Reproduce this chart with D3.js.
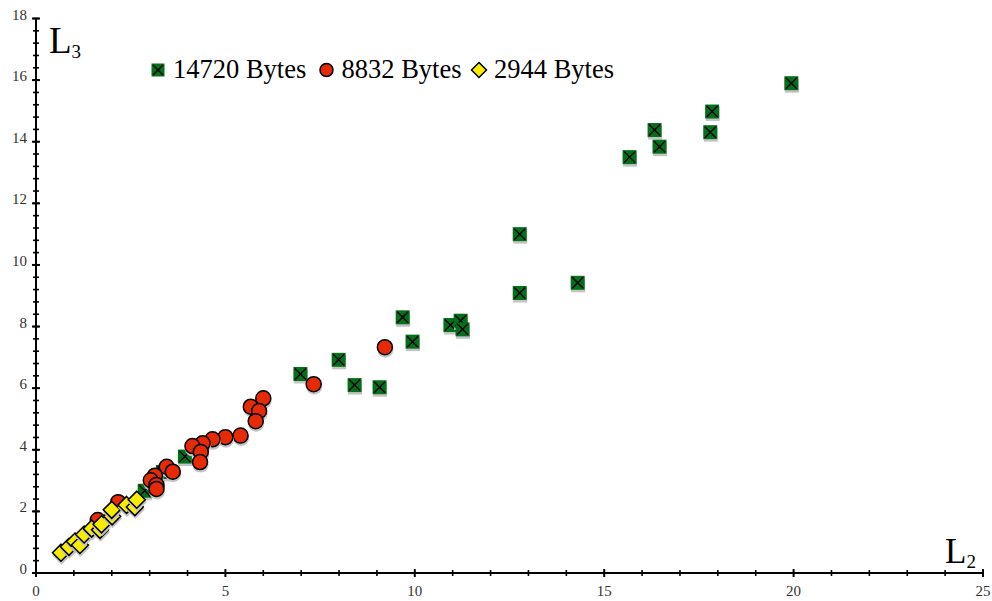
<!DOCTYPE html>
<html>
<head>
<meta charset="utf-8">
<script src="https://d3js.org/d3.v7.min.js"></script>
<style>
  body { margin: 0; background: #fff; }
  text { font-family: "Liberation Serif", "Times New Roman", serif; }
</style>
</head>
<body>
<div id="chart"></div>
<script>
// Data
//-------------------------------------------------------
var seriesNames = ["14720 Bytes", "8832 Bytes", "2944 Bytes"];

var bigX = [19.94, 17.85, 17.80, 16.33, 16.46, 15.67, 12.77, 14.30, 12.77, 9.68, 10.94, 11.21, 11.26,
            9.94, 7.99, 6.98, 8.41, 9.07, 3.93, 2.87, 3.35];
var bigY = [15.90, 14.98, 14.31, 14.38, 13.84, 13.50, 11.00, 9.42, 9.09, 8.30, 8.05, 8.19, 7.91,
            7.51, 6.92, 6.46, 6.10, 6.03, 3.78, 2.67, 3.28];

var midX = [9.21, 7.33, 6.00, 5.67, 5.89, 5.80, 5.40, 5.00, 4.66, 4.40, 4.13, 4.35, 4.33,
            3.45, 3.61, 3.14, 3.03, 3.18, 3.18, 2.17, 1.63];
var midY = [7.33, 6.13, 5.67, 5.40, 5.26, 4.93, 4.46, 4.41, 4.34, 4.21, 4.12, 3.93, 3.60,
            3.45, 3.29, 3.16, 3.01, 2.86, 2.73, 2.30, 1.72];

var smallX = [0.66, 0.87, 1.03, 1.16, 1.27, 1.47, 1.69, 1.73, 2.01, 2.00, 2.39, 2.61, 2.66];
var smallY = [0.66, 0.85, 1.02, 0.91, 1.25, 1.44, 1.40, 1.58, 1.84, 2.05, 2.21, 2.14, 2.38];

var xTicks = [0, 5, 10, 15, 20, 25];
var yTicks = [0, 2, 4, 6, 8, 10, 12, 14, 16, 18];

// Set up SVG
//-------------------------------------------------------
var svgWidth = 992;
var svgHeight = 601;

var margin = { top: 18.5, right: 9, bottom: 28, left: 36 };

var svg = d3.select("#chart")
    .append("svg")
    .attr("width", svgWidth)
    .attr("height", svgHeight);

var xScale = d3.scaleLinear().domain([0, 25]).range([margin.left, svgWidth - margin.right]);
var yScale = d3.scaleLinear().domain([0, 18]).range([svgHeight - margin.bottom, margin.top]);

// Axes
//-------------------------------------------------------
var x0 = xScale(0), y0 = yScale(0);

var axes = svg.append("g");

// minor ticks (cross the axis line)
axes.selectAll(".xminor").data(d3.range(0, 26, 1))
    .enter().append("line")
    .attr("x1", d => xScale(d)).attr("x2", d => xScale(d))
    .attr("y1", d => y0 - (d % 5 === 0 ? 4 : 3)).attr("y2", d => y0 + (d % 5 === 0 ? 4 : 3))
    .attr("stroke", "#000").attr("stroke-width", d => d % 5 === 0 ? 2 : 1.6);

axes.selectAll(".yminor").data(d3.range(0, 18.01, 0.4))
    .enter().append("line")
    .attr("y1", d => yScale(d)).attr("y2", d => yScale(d))
    .attr("x1", x0 - 3).attr("x2", x0 + 3)
    .attr("stroke", "#000").attr("stroke-width", 1.6);

axes.selectAll(".ymajor").data(yTicks)
    .enter().append("line")
    .attr("y1", d => yScale(d)).attr("y2", d => yScale(d))
    .attr("x1", x0 - 4).attr("x2", x0 + 4)
    .attr("stroke", "#000").attr("stroke-width", 2);

axes.append("line")
    .attr("x1", x0).attr("x2", xScale(25))
    .attr("y1", y0).attr("y2", y0)
    .attr("stroke", "#000").attr("stroke-width", 2);

axes.append("line")
    .attr("x1", x0).attr("x2", x0)
    .attr("y1", y0).attr("y2", yScale(18))
    .attr("stroke", "#000").attr("stroke-width", 2);

// tick labels
axes.selectAll(".xlab").data(xTicks)
    .enter().append("text")
    .attr("x", d => xScale(d)).attr("y", y0 + 23)
    .attr("text-anchor", "middle")
    .attr("font-size", 15).attr("fill", "#333")
    .text(d => d);

axes.selectAll(".ylab").data(yTicks)
    .enter().append("text")
    .attr("x", x0 - 9).attr("y", d => yScale(d) + 1)
    .attr("text-anchor", "end")
    .attr("font-size", 15).attr("fill", "#333")
    .text(d => d);

// axis names
var l3 = svg.append("text").attr("x", 49).attr("y", 53).attr("font-size", 37);
l3.append("tspan").text("L");
l3.append("tspan").attr("font-size", 19).attr("dy", 5).text("3");

var l2 = svg.append("text").attr("x", 945).attr("y", 563).attr("font-size", 35);
l2.append("tspan").text("L");
l2.append("tspan").attr("font-size", 19).attr("dy", 5).text("2");

// Markers
//-------------------------------------------------------
var colors = ["#05701c", "#e62a06", "#f8ec00"];

function drawSquare(g, s, fill) {
    g.append("rect").attr("x", -s / 2).attr("y", -s / 2).attr("width", s).attr("height", s)
        .attr("fill", fill);
    g.append("path")
        .attr("d", `M${-s / 2 + 1.5},${-s / 2 + 1.5}L${s / 2 - 1.5},${s / 2 - 1.5}M${s / 2 - 1.5},${-s / 2 + 1.5}L${-s / 2 + 1.5},${s / 2 - 1.5}`)
        .attr("stroke", "#000").attr("stroke-width", 1.4);
}

function drawCircle(g, r, fill) {
    g.append("circle").attr("r", r).attr("fill", fill)
        .attr("stroke", "#000").attr("stroke-width", 1.5);
}

function drawDiamond(g, r, fill) {
    g.append("path").attr("d", `M0,${-r}L${r},0L0,${r}L${-r},0Z`)
        .attr("fill", fill).attr("stroke", "#000").attr("stroke-width", 1.5);
}

function shadow(g, kind, size) {
    var sh = g.append("g").attr("transform", "translate(0.5,2.5)");
    if (kind === "square") {
        sh.append("rect").attr("x", -size / 2).attr("y", -size / 2).attr("width", size).attr("height", size)
            .attr("fill", "#c4c4c4");
    } else if (kind === "circle") {
        sh.append("circle").attr("r", size + 0.5).attr("fill", "#c4c4c4");
    } else {
        sh.append("path").attr("d", `M0,${-size - 1}L${size + 1},0L0,${size + 1}L${-size - 1},0Z`).attr("fill", "#c4c4c4");
    }
}

function plotSeries(xs, ys, kind, size, fill) {
    var pts = xs.map((x, i) => ({ x: x, y: ys[i] }));
    var grp = svg.append("g");
    var marks = grp.selectAll("g").data(pts).enter().append("g")
        .attr("transform", d => `translate(${xScale(d.x)},${yScale(d.y)})`);
    marks.each(function() {
        var g = d3.select(this);
        shadow(g, kind, size);
        if (kind === "square") drawSquare(g, size, fill);
        else if (kind === "circle") drawCircle(g, size, fill);
        else drawDiamond(g, size, fill);
    });
}

plotSeries(bigX, bigY, "square", 14, colors[0]);
plotSeries(midX, midY, "circle", 7.5, colors[1]);
plotSeries(smallX, smallY, "diamond", 8.5, colors[2]);

// Legend
//-------------------------------------------------------
var legend = svg.append("g");
var legendPos = [158, 326.5, 479];
var legendKinds = ["square", "circle", "diamond"];

seriesNames.forEach(function(name, i) {
    var g = legend.append("g").attr("transform", `translate(${legendPos[i]},70)`);
    if (legendKinds[i] === "square") drawSquare(g, 13, colors[0]);
    else if (legendKinds[i] === "circle") drawCircle(g, 6.5, colors[1]);
    else drawDiamond(g, 7.5, colors[2]);
    g.append("text").attr("x", 15).attr("y", 7.5)
        .attr("font-size", 26.5).attr("fill", "#000")
        .text(name);
});
</script>
</body>
</html>
